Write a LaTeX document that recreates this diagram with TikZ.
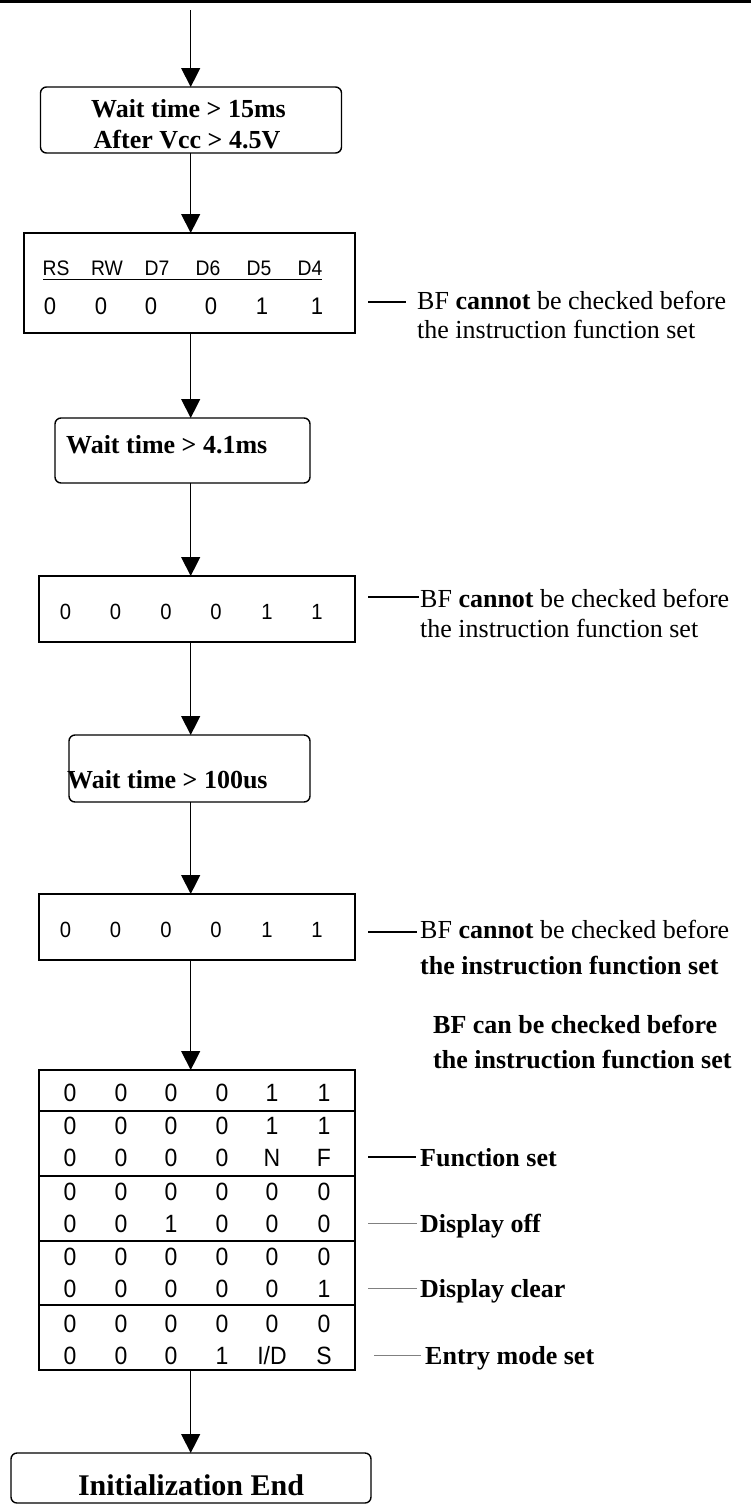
\documentclass[tikz,border=0pt]{standalone}
\usepackage{fontspec}
\setmainfont{Liberation Serif}
\newfontfamily\dig[FakeStretch=0.92]{Liberation Sans}
\usetikzlibrary{arrows.meta}
\begin{document}
\begin{tikzpicture}[x=1pt,y=-1pt,
 arr/.style={line width=1.2pt,-{Triangle[length=19pt,width=19pt]}},
 rbox/.style={draw,line width=1.4pt,rounded corners=6pt,inner sep=0pt,outer sep=0pt,anchor=north west},
 sbox/.style={draw,line width=1.4pt,inner sep=0pt,outer sep=0pt,anchor=north west},
 tx/.style={inner sep=0pt,font=\fontsize{26}{32}\selectfont\bfseries},
 lab/.style={inner sep=0pt,anchor=base west,font=\fontsize{26}{30}\selectfont},
 blab/.style={inner sep=0pt,anchor=base west,font=\fontsize{26}{30}\selectfont\bfseries},
 dg/.style={inner sep=0pt,anchor=base,font=\fontsize{22}{26}\selectfont\dig},
 dgb/.style={inner sep=0pt,anchor=base,font=\fontsize{25}{30}\selectfont\dig},
 lead/.style={line width=1.3pt},
 glead/.style={line width=1pt,gray}
]
\useasboundingbox (0,0) rectangle (751,1505);
% top rule
\coordinate (r0) at (0,1.5);
\coordinate (r1) at (751,1.5);
\draw[line width=2.5pt] (r0) -- (r1);

% boxes
\node[rbox,minimum width=301pt,minimum height=66pt] (b1) at (40.5,87) {};
\node[sbox,minimum width=331pt,minimum height=100pt] (b2) at (24,233) {};
\node[rbox,minimum width=255pt,minimum height=65pt] (b3) at (55,418) {};
\node[sbox,minimum width=316pt,minimum height=66pt] (b4) at (39,576) {};
\node[rbox,minimum width=241pt,minimum height=67pt] (b5) at (69,735) {};
\node[sbox,minimum width=316pt,minimum height=66pt] (b6) at (39,894) {};
\node[sbox,minimum width=316pt,minimum height=300pt] (b7) at (39,1070) {};
\node[rbox,minimum width=360pt,minimum height=50pt] (b8) at (11,1453) {};

% arrows
\coordinate (s0) at (190.7,10);
\draw[arr] (s0) -- (b1.north -| s0);
\draw[arr] (b1.south -| s0) -- (b2.north -| s0);
\draw[arr] (b2.south -| s0) -- (b3.north -| s0);
\draw[arr] (b3.south -| s0) -- (b4.north -| s0);
\draw[arr] (b4.south -| s0) -- (b5.north -| s0);
\draw[arr] (b5.south -| s0) -- (b6.north -| s0);
\draw[arr] (b6.south -| s0) -- (b7.north -| s0);
\draw[arr] (b7.south -| s0) -- (b8.north -| s0);

% box 1 text
\node[tx,anchor=base] (t1a) at (188.5,117) {Wait time > 15ms};
\node[tx,anchor=base] (t1b) at (187,148) {After Vcc > 4.5V};

% box 2
\foreach \t/\x in {RS/56,RW/107,D7/157,D6/208,D5/259,D4/310}
  \node[dg,font=\fontsize{21}{26}\selectfont\dig] (h\x) at (\x,275) {\t};
\coordinate (u1) at (43,279.5);
\coordinate (u2) at (322,279.5);
\draw[line width=1.6pt] (u1) -- (u2);
\foreach \t/\x [count=\i] in {0/50,0/101,0/151,0/211,1/262,1/317}
  \node[dg,font=\fontsize{24}{26}\selectfont\dig] (d2\i) at (\x,314) {\t};
\coordinate (l2a) at (368,302);
\coordinate (l2b) at (406,302);
\draw[lead] (l2a) -- (l2b);
\node[lab] (n2a) at (417,309) {BF {\bfseries cannot} be checked before};
\node[lab] (n2b) at (417,338) {the instruction function set};

% box 3
\node[tx,anchor=base west] (t3) at (66,453) {Wait time > 4.1ms};

% box 4
\foreach \t/\x [count=\i] in {0/65.5,0/115.5,0/166,0/216,1/267,1/317}
  \node[dg] (d4\i) at (\x,619) {\t};
\coordinate (l4a) at (368,597);
\coordinate (l4b) at (419,597);
\draw[lead] (l4a) -- (l4b);
\node[lab] (n4a) at (420,607) {BF {\bfseries cannot} be checked before};
\node[lab] (n4b) at (420,637) {the instruction function set};

% box 5
\node[tx,anchor=base west] (t5) at (67,788) {Wait time > 100us};

% box 6
\foreach \t/\x [count=\i] in {0/65.5,0/115.5,0/166,0/216,1/267,1/317}
  \node[dg] (d6\i) at (\x,937) {\t};
\coordinate (l6a) at (368,932);
\coordinate (l6b) at (417,932);
\draw[lead] (l6a) -- (l6b);
\node[lab] (n6a) at (420,938) {BF {\bfseries cannot} be checked before};
\node[blab] (n6b) at (420,974) {the instruction function set};

% free label
\node[blab] (c1) at (433,1033) {BF can be checked before};
\node[blab] (c2) at (433,1068) {the instruction function set};

% box 7 separators
\foreach \y [count=\i] in {1111,1176,1241,1305} {
  \coordinate (sl\i) at (39,\y);
  \coordinate (sr\i) at (355,\y);
  \draw[line width=1.4pt] (sl\i) -- (sr\i);
}
% box 7 rows
\foreach \a/\b/\c/\d/\e/\f [count=\r] in {0/0/0/0/1/1, 0/0/0/0/1/1, 0/0/0/0/N/F, 0/0/0/0/0/0, 0/0/1/0/0/0, 0/0/0/0/0/0, 0/0/0/0/0/1, 0/0/0/0/0/0, 0/0/0/1/{I/D}/S} {
  \pgfmathsetmacro{\yy}{{1101,1134,1166,1200,1232,1265,1297,1332,1364}[\r-1]}
  \node[dgb] (g\r a) at (70,\yy) {\a};
  \node[dgb] (g\r b) at (121,\yy) {\b};
  \node[dgb] (g\r c) at (171,\yy) {\c};
  \node[dgb] (g\r d) at (222,\yy) {\d};
  \node[dgb] (g\r e) at (272,\yy) {\e};
  \node[dgb] (g\r f) at (324,\yy) {\f};
}

% box 7 labels
\coordinate (f1) at (368,1157);
\coordinate (f2) at (416,1157);
\draw[lead] (f1) -- (f2);
\node[blab] (fs) at (420,1166) {Function set};
\coordinate (o1) at (368,1223);
\coordinate (o2) at (417,1223);
\draw[glead] (o1) -- (o2);
\node[blab] (do) at (420,1232) {Display off};
\coordinate (c1a) at (368,1288);
\coordinate (c1b) at (417,1288);
\draw[glead] (c1a) -- (c1b);
\node[blab] (dc) at (420,1297) {Display clear};
\coordinate (e1) at (374,1355);
\coordinate (e2) at (421,1355);
\draw[glead] (e1) -- (e2);
\node[blab] (em) at (425,1364) {Entry mode set};

% box 8
\node[inner sep=0pt,anchor=base,font=\fontsize{30}{36}\selectfont\bfseries] (t8) at (191,1495) {Initialization End};
\end{tikzpicture}
\end{document}
